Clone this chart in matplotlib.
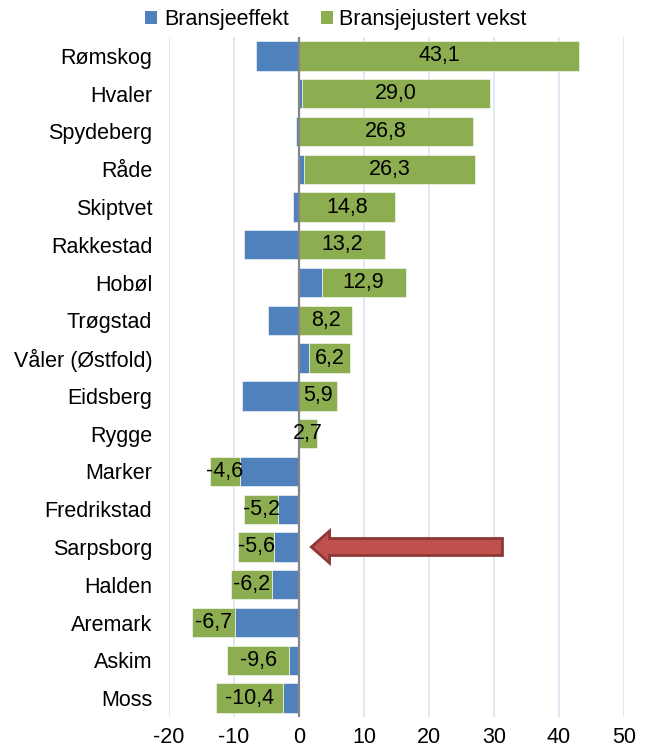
"""Bransjeeffekt og bransjejustert vekst per kommune i Østfold."""

import matplotlib.pyplot as plt
import numpy as np
from matplotlib.patches import FancyArrow, Patch

kommuner = [
    "Rømskog", "Hvaler", "Spydeberg", "Råde", "Skiptvet", "Rakkestad",
    "Hobøl", "Trøgstad", "Våler (Østfold)", "Eidsberg", "Rygge", "Marker",
    "Fredrikstad", "Sarpsborg", "Halden", "Aremark", "Askim", "Moss",
]
bransjeeffekt = [
    -6.6, 0.4, -0.4, 0.8, -0.9, -8.5,
    3.5, -4.7, 1.6, -8.8, 0.0, -9.1,
    -3.2, -3.8, -4.2, -9.8, -1.5, -2.4,
]
bransjejustert = [
    43.1, 29.0, 26.8, 26.3, 14.8, 13.2,
    12.9, 8.2, 6.2, 5.9, 2.7, -4.6,
    -5.2, -5.6, -6.2, -6.7, -9.6, -10.4,
]
x_ticks = [-20, -10, 0, 10, 20, 30, 40, 50]

BLUE = "#4F81BD"
GREEN = "#8DAD51"
FONT = "Liberation Sans"
FS = 15.5

plt.rcParams["font.family"] = [FONT, "DejaVu Sans"]

blue = np.array(bransjeeffekt)
green = np.array(bransjejustert)
y = np.arange(len(kommuner))

# Excel-style stacking: negatives stack on negatives, positives on positives
same_sign = np.sign(blue) == np.sign(green)
green_left = np.where(same_sign, blue, 0.0)

fig = plt.figure(figsize=(6.46, 7.51), dpi=100)
ax = fig.add_axes([0.2616, 0.0453, 0.7044, 0.9054])

ax.barh(y, blue, height=0.775, color=BLUE, edgecolor="white", linewidth=0.4, zorder=2)
ax.barh(y, green, left=green_left, height=0.775, color=GREEN,
        edgecolor="white", linewidth=0.4, zorder=2)

for yi, left, val in zip(y, green_left, green):
    ax.text(left + val / 2, yi, f"{val:.1f}".replace(".", ","),
            ha="center", va="center", fontsize=FS, color="black", zorder=4)

ax.axvline(0, color="#868686", linewidth=1.6, zorder=3)

# highlight arrow pointing at Sarpsborg
row = kommuner.index("Sarpsborg")
ax.add_patch(FancyArrow(31.3, row, -29.4, 0, width=0.45, head_width=0.85,
                        head_length=2.8, length_includes_head=True,
                        facecolor="#C0504D", edgecolor="#8C3836",
                        linewidth=2, zorder=5))

ax.set_xlim(-20, 50)
ax.set_ylim(len(kommuner) - 0.5, -0.5)
ax.set_xticks(x_ticks)
ax.set_xticklabels([str(t) for t in x_ticks])
ax.set_yticks(y)
ax.set_yticklabels(kommuner)
ax.tick_params(axis="both", length=0, labelsize=FS)
ax.tick_params(axis="y", pad=12)
ax.tick_params(axis="x", pad=7)
ax.grid(axis="x", color="#DCE6F2", linewidth=1.3, zorder=0)
ax.set_axisbelow(True)
for spine in ax.spines.values():
    spine.set_visible(False)

handles = [Patch(facecolor=BLUE), Patch(facecolor=GREEN)]
fig.legend(handles, ["Bransjeeffekt", "Bransjejustert vekst"],
           loc="center", bbox_to_anchor=(336 / 646, 1 - 20 / 751), ncol=2,
           frameon=False, fontsize=FS, handlelength=0.55, handleheight=0.55,
           handletextpad=0.3, columnspacing=1.5, borderaxespad=0)

fig.savefig("out.png", dpi=100)
plt.close(fig)
